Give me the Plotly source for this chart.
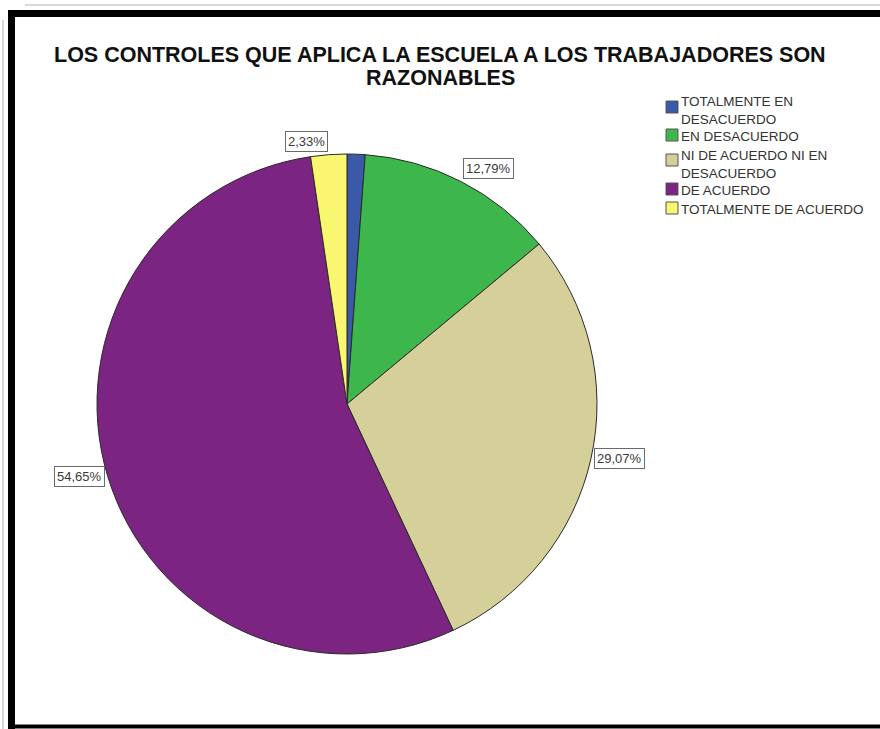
import math
import plotly.graph_objects as go

# Survey answers (share of respondents, %)
categories = [
    "TOTALMENTE EN DESACUERDO",
    "EN DESACUERDO",
    "NI DE ACUERDO NI EN DESACUERDO",
    "DE ACUERDO",
    "TOTALMENTE DE ACUERDO",
]
legend_text = [
    "TOTALMENTE EN<br>DESACUERDO",
    "EN DESACUERDO",
    "NI DE ACUERDO NI EN<br>DESACUERDO",
    "DE ACUERDO",
    "TOTALMENTE DE ACUERDO",
]
values = [1.16, 12.79, 29.07, 54.65, 2.33]
show_label = [False, True, True, True, True]
colors = ["#3a5aa8", "#3db64b", "#d5d09a", "#7b2481", "#f9f66f"]
title_lines = [
    "LOS CONTROLES QUE APLICA LA ESCUELA A LOS TRABAJADORES SON",
    "RAZONABLES",
]

W, H = 880, 729
FONT = "Liberation Sans, Arial, sans-serif"


def px(x):
    return x / W


def py(y):
    return 1 - y / H


# pie placement in pixels
cx, cy, R = 347, 404, 250

fig = go.Figure(
    go.Pie(
        labels=categories,
        values=values,
        sort=False,
        direction="clockwise",
        rotation=0,
        marker=dict(colors=colors, line=dict(color="#2a2a2a", width=1)),
        textinfo="none",
        hoverinfo="label+percent",
        showlegend=False,
        domain=dict(x=[px(cx - R), px(cx + R)], y=[py(cy + R), py(cy - R)]),
    )
)

annotations = []
shapes = []

# percentage labels in boxes, placed at each slice's mid angle
total = sum(values)
cum = 0.0
for v, show in zip(values, show_label):
    mid = (cum + v / 2) / total * 2 * math.pi
    cum += v
    if not show:
        continue
    s, c = math.sin(mid), math.cos(mid)
    r = R + 3
    x, y = cx + r * s, cy - r * c
    xanchor = "left" if s > 0 else "right"
    if c > 0.5:
        yanchor = "bottom"
    elif c < -0.5:
        yanchor = "top"
    else:
        yanchor = "middle"
    annotations.append(dict(
        x=px(x), y=py(y), xref="paper", yref="paper",
        text=f"{v:.2f}".replace(".", ",") + "%",
        showarrow=False, xanchor=xanchor, yanchor=yanchor,
        font=dict(family=FONT, size=13, color="#3a3a3a"),
        bgcolor="white", bordercolor="#6a6a6a", borderwidth=1, borderpad=2,
    ))

# title, two centred lines
for i, line in enumerate(title_lines):
    annotations.append(dict(
        x=0.5, y=py(55 + 23 * i), xref="paper", yref="paper",
        text=f"<b>{line}</b>", showarrow=False,
        xanchor="center", yanchor="middle",
        font=dict(family=FONT, size=21.5, color="#111"),
    ))

# legend: swatches with labels
legend_rows = [(100, 107), (135, 135), (154, 160), (189, 189), (208, 208)]
for (ty, sy), txt, col in zip(legend_rows, legend_text, colors):
    shapes.append(dict(
        type="rect", xref="paper", yref="paper",
        x0=px(666), x1=px(678), y0=py(sy - 6), y1=py(sy + 6),
        fillcolor=col, line=dict(color="#555", width=1),
    ))
    annotations.append(dict(
        x=px(679), y=py(ty - 8), xref="paper", yref="paper",
        text=txt, showarrow=False, xanchor="left", yanchor="top", align="left",
        font=dict(family=FONT, size=13.5, color="#333"),
    ))

# frame around the chart
frame = [
    ((25, 5), (880, 5), "#b0b0b0", 1),
    ((3, 20), (3, 729), "#b0b0b0", 1),
    ((8, 13.5), (880, 13.5), "#000", 7),
    ((11.5, 10), (11.5, 729), "#000", 7),
    ((8, 726.5), (880, 726.5), "#000", 4),
]
for (x0, y0), (x1, y1), col, w in frame:
    shapes.append(dict(
        type="line", xref="paper", yref="paper",
        x0=px(x0), y0=py(y0), x1=px(x1), y1=py(y1),
        line=dict(color=col, width=w),
    ))

fig.update_layout(
    width=W, height=H,
    margin=dict(l=0, r=0, t=0, b=0),
    paper_bgcolor="white", plot_bgcolor="white",
    annotations=annotations, shapes=shapes,
)

fig.write_html("out.html")
